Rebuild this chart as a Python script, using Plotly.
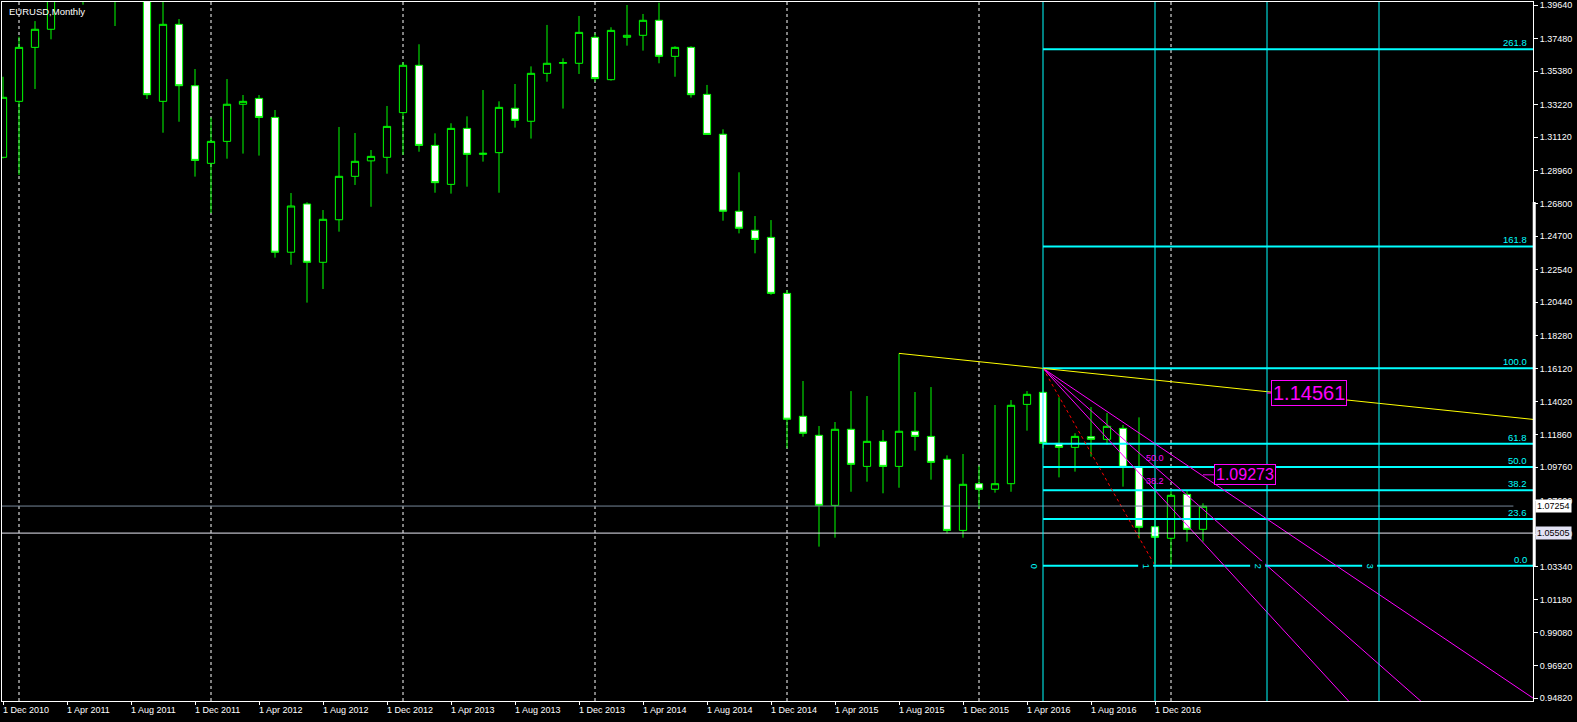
import plotly.graph_objects as go

# EURUSD monthly bars, Dec 2010 .. Mar 2017
opens = [1.2981, 1.3343, 1.3692, 1.3809, 1.4158, 1.4807, 1.4394, 1.4500, 1.4393, 1.4378,
         1.3343, 1.3841, 1.3444, 1.2942, 1.3084, 1.3324, 1.3362, 1.3239, 1.2367, 1.2679,
         1.2302, 1.2577, 1.2858, 1.2958, 1.2981, 1.3270, 1.3576, 1.3058, 1.2806, 1.3168,
         1.3000, 1.3011, 1.3298, 1.3214, 1.3524, 1.3589, 1.3589, 1.3757, 1.3483, 1.3757,
         1.3770, 1.3867, 1.3634, 1.3692, 1.3388, 1.3130, 1.2632, 1.2509, 1.2463, 1.2101,
         1.1306, 1.1183, 1.0730, 1.1222, 1.0982, 1.1144, 1.0982, 1.1209, 1.1176, 1.1028,
         1.0568, 1.0870, 1.0834, 1.0870, 1.1383, 1.1461, 1.1131, 1.1105, 1.1174, 1.1157,
         1.1228, 1.0976, 1.0592, 1.0517, 1.0801, 1.0575]
highs = [1.3502, 1.3761, 1.3862, 1.4249, 1.4880, 1.4940, 1.4697, 1.4578, 1.4549, 1.4548,
         1.4248, 1.3875, 1.3552, 1.3239, 1.3487, 1.3384, 1.3384, 1.3287, 1.2750, 1.2690,
         1.2640, 1.3177, 1.3138, 1.3028, 1.3313, 1.3597, 1.3712, 1.3136, 1.3201, 1.3246,
         1.3416, 1.3343, 1.3455, 1.3569, 1.3837, 1.3621, 1.3895, 1.3783, 1.3822, 1.3966,
         1.3908, 1.3981, 1.3699, 1.3699, 1.3449, 1.3162, 1.2884, 1.2601, 1.2575, 1.2123,
         1.1534, 1.1243, 1.1269, 1.1469, 1.1437, 1.1217, 1.1713, 1.1463, 1.1495, 1.1053,
         1.1062, 1.0987, 1.1379, 1.1411, 1.1469, 1.1616, 1.1429, 1.1196, 1.1366, 1.1327,
         1.1250, 1.1299, 1.0874, 1.0829, 1.0829, 1.0743]
lows = [1.2974, 1.2867, 1.3423, 1.3744, 1.4110, 1.3968, 1.4070, 1.3830, 1.4051, 1.3358,
        1.3140, 1.3211, 1.2856, 1.2619, 1.2972, 1.3005, 1.2992, 1.2332, 1.2286, 1.2041,
        1.2129, 1.2500, 1.2802, 1.2661, 1.2875, 1.2996, 1.3017, 1.2752, 1.2746, 1.2791,
        1.2953, 1.2752, 1.3173, 1.3102, 1.3470, 1.3296, 1.3520, 1.3470, 1.3477, 1.3703,
        1.3671, 1.3589, 1.3502, 1.3367, 1.3127, 1.2571, 1.2489, 1.2360, 1.2092, 1.1099,
        1.1174, 1.0463, 1.0521, 1.0818, 1.0883, 1.0808, 1.0844, 1.1084, 1.0896, 1.0549,
        1.0521, 1.0709, 1.0812, 1.0818, 1.1213, 1.1099, 1.0911, 1.0948, 1.1045, 1.1123,
        1.0851, 1.0515, 1.0352, 1.0340, 1.0495, 1.0495]
closes = [1.3369, 1.3692, 1.3809, 1.4158, 1.4807, 1.4394, 1.4500, 1.4393, 1.4378, 1.3386,
          1.3841, 1.3444, 1.2961, 1.3084, 1.3324, 1.3343, 1.3239, 1.2367, 1.2666, 1.2302,
          1.2580, 1.2858, 1.2955, 1.2987, 1.3181, 1.3576, 1.3058, 1.2817, 1.3168, 1.3000,
          1.3007, 1.3304, 1.3220, 1.3524, 1.3589, 1.3593, 1.3789, 1.3490, 1.3802, 1.3770,
          1.3867, 1.3634, 1.3692, 1.3386, 1.3129, 1.2632, 1.2522, 1.2450, 1.2101, 1.1287,
          1.1196, 1.0730, 1.1222, 1.0995, 1.1144, 1.0982, 1.1209, 1.1176, 1.1008, 1.0568,
          1.0866, 1.0834, 1.0870, 1.1377, 1.1448, 1.1131, 1.1105, 1.1176, 1.1157, 1.1241,
          1.0976, 1.0588, 1.0523, 1.0795, 1.0575, 1.0724]

tick_pos = [0, 4, 8, 12, 16, 20, 24, 28, 32, 36, 40, 44, 48, 52, 56, 60, 64, 68, 72]
tick_text = ["1 Dec 2010", "1 Apr 2011", "1 Aug 2011", "1 Dec 2011", "1 Apr 2012",
             "1 Aug 2012", "1 Dec 2012", "1 Apr 2013", "1 Aug 2013", "1 Dec 2013",
             "1 Apr 2014", "1 Aug 2014", "1 Dec 2014", "1 Apr 2015", "1 Aug 2015",
             "1 Dec 2015", "1 Apr 2016", "1 Aug 2016", "1 Dec 2016"]
price_ticks = [1.39640, 1.37480, 1.35380, 1.33220, 1.31120, 1.28960, 1.26800, 1.24700,
               1.22540, 1.20440, 1.18280, 1.16120, 1.14020, 1.11860, 1.09760, 1.07600,
               1.05440, 1.03340, 1.01180, 0.99080, 0.96920, 0.94820]

year_starts = [1, 13, 25, 37, 49, 61, 73]

# drawing objects
trend_idx = [56, 65]
fib_hi_idx, fib_lo_idx = 65, 72
fib_hi, fib_lo = 1.1616, 1.0340
fib_levels = [0.0, 23.6, 38.2, 50.0, 61.8, 100.0, 161.8, 261.8]
fan_levels = [38.2, 50.0, 61.8]
cycle_idx = [65, 72, 79, 86]
bid_price = 1.07254
hline_price = 1.05505
axis_marker = [1.2692, 1.0334]
trend_label = ("1.14561", 79, 1.14561)
fan_label = ("1.09273", 75, 1.09273)

CYAN = "#00ffff"
MAG = "#ff00ff"
X_END = 100

x = list(range(len(opens)))
fig = go.Figure()

# year separators
for xs in year_starts:
    fig.add_shape(type="line", x0=xs, x1=xs, y0=0, y1=1, xref="x", yref="paper",
                  line=dict(color="white", width=1, dash="3px,3px"), layer="below")

# bid line and horizontal line
fig.add_shape(type="line", x0=-1, x1=94.4, y0=bid_price, y1=bid_price,
              line=dict(color="#778899", width=1))
fig.add_hline(y=hline_price, line=dict(color="#e8e8f4", width=1))

# cycle lines
for c in cycle_idx:
    fig.add_shape(type="line", x0=c, x1=c, y0=0, y1=1, xref="x", yref="paper",
                  line=dict(color=CYAN, width=1))

fig.add_trace(go.Candlestick(
    x=x, open=opens, high=highs, low=lows, close=closes,
    increasing=dict(line=dict(color="#00ff00", width=1), fillcolor="#000000"),
    decreasing=dict(line=dict(color="#00ff00", width=1), fillcolor="#ffffff"),
    whiskerwidth=0, hoverinfo="skip",
))

# fibo retracement
rng = fib_hi - fib_lo
for lv in fib_levels:
    p = fib_lo + rng * lv / 100
    fig.add_trace(go.Scatter(x=[fib_hi_idx, X_END], y=[p, p], mode="lines",
                             line=dict(color=CYAN, width=2), hoverinfo="skip"))
    fig.add_annotation(x=95.35, y=p, xref="x", yref="y", text=f"{lv:.1f}",
                       showarrow=False, xanchor="right", yanchor="bottom", yshift=-1,
                       font=dict(size=9.5, color=CYAN))

# fibo fan
for lv in fan_levels:
    p = fib_lo + rng * lv / 100
    slope = (p - fib_hi) / (fib_lo_idx - fib_hi_idx)
    fig.add_trace(go.Scatter(x=[fib_hi_idx, X_END],
                             y=[fib_hi, fib_hi + slope * (X_END - fib_hi_idx)],
                             mode="lines", line=dict(color=MAG, width=1), hoverinfo="skip"))
    if lv < 60:
        fig.add_annotation(x=fib_lo_idx, y=p, text=f"{lv:.1f}", showarrow=False,
                           yanchor="bottom", yshift=2, font=dict(size=9, color=MAG))

fig.add_trace(go.Scatter(x=[fib_hi_idx, fib_lo_idx], y=[fib_hi, fib_lo], mode="lines",
                         line=dict(color="#ff0000", width=1, dash="dot"), hoverinfo="skip"))

# trend line
t_slope = (highs[trend_idx[1]] - highs[trend_idx[0]]) / (trend_idx[1] - trend_idx[0])
fig.add_trace(go.Scatter(x=[trend_idx[0], X_END],
                         y=[highs[trend_idx[0]], highs[trend_idx[0]] + t_slope * (X_END - trend_idx[0])],
                         mode="lines", line=dict(color="#ffff00", width=1), hoverinfo="skip"))

# cycle line numbers on the 0 level
for n, c in enumerate(cycle_idx):
    fig.add_annotation(x=c, y=fib_lo, text=str(n), showarrow=False, textangle=90,
                       xanchor="right", xshift=-1, bgcolor="black", borderpad=2,
                       font=dict(size=9, color=CYAN))

# price labels
for txt, xi, val, size in [(trend_label[0], trend_label[1], trend_label[2], 20),
                           (fan_label[0], fan_label[1], fan_label[2], 16)]:
    fig.add_shape(type="line", x0=xi, x1=xi + (0.25 if size == 20 else 0.7), y0=val, y1=val,
                  line=dict(color=MAG, width=1))
    fig.add_annotation(x=xi, y=val, text=txt, showarrow=False, xanchor="left",
                       xshift=(4 if size == 20 else 11), bgcolor="black", bordercolor=MAG,
                       borderwidth=1, borderpad=1, font=dict(size=size, color=MAG))

# x labels
for tp, tt in zip(tick_pos, tick_text):
    fig.add_annotation(x=tp, y=0, xref="x", yref="paper", text=tt, showarrow=False,
                       xanchor="left", yanchor="top", xshift=-2, yshift=-2,
                       font=dict(size=9, color="white"))

# right axis markers
fig.add_shape(type="line", x0=1.0008, x1=1.0008, y0=axis_marker[0], y1=axis_marker[1],
              xref="paper", yref="y", line=dict(color="white", width=3))
fig.add_annotation(x=1.0013, y=bid_price, xref="paper", yref="y", text="1.07254",
                   showarrow=False, xanchor="left", bgcolor="white", borderpad=1,
                   font=dict(size=9, color="black"))
fig.add_annotation(x=1.0013, y=hline_price, xref="paper", yref="y", text="1.05505",
                   showarrow=False, xanchor="left", bgcolor="#e2e2f4", borderpad=1,
                   font=dict(size=9, color="black"))

fig.add_annotation(x=0.0033, y=0.987, xref="paper", yref="paper", text="EURUSD,Monthly",
                   showarrow=False, xanchor="left", yanchor="middle",
                   font=dict(size=9.5, color="white"))

fig.update_layout(
    width=1577, height=722,
    margin=dict(l=2, r=44, t=2, b=21, autoexpand=False),
    paper_bgcolor="black", plot_bgcolor="black",
    showlegend=False, hovermode=False, boxgap=0.35,
    font=dict(family="Liberation Sans", size=9, color="white"),
    xaxis=dict(range=[-0.0625, 95.625], showgrid=False, zeroline=False, showline=True,
               mirror=True, linecolor="white", linewidth=1, tickvals=tick_pos,
               ticks="outside", ticklen=3, tickcolor="white", showticklabels=False,
               rangeslider=dict(visible=False), automargin=False),
    yaxis=dict(range=[0.94646, 1.39854], side="right", showgrid=False, zeroline=False,
               showline=True, mirror=True, linecolor="white", linewidth=1,
               tickvals=price_ticks, ticktext=[f"{v:.5f}" for v in price_ticks],
               ticks="outside", ticklen=4, tickcolor="white", automargin=False,
               tickfont=dict(size=9, color="white")),
)

fig.write_html("out.html", config={"displayModeBar": False},
               post_script="document.body.style.margin='0';"
               "document.body.style.overflow='hidden';")
